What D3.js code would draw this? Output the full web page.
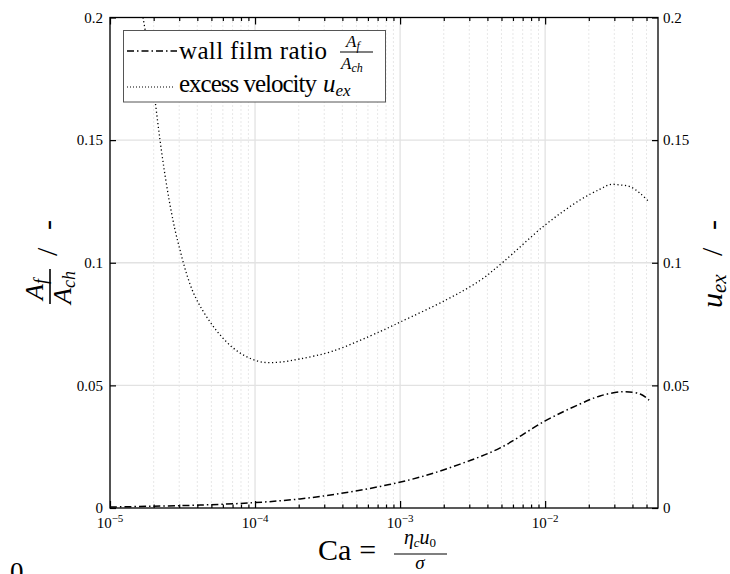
<!DOCTYPE html>
<html><head><meta charset="utf-8">
<script src="https://cdn.jsdelivr.net/npm/d3@7"></script>
<style>
body{margin:0;background:#fff}
svg{display:block}
svg text{font-family:'Liberation Serif','DejaVu Serif','Noto Serif',serif;fill:#000}
</style>
</head><body>
<svg id="chart" width="730" height="574" font-family="Liberation Serif, DejaVu Serif, serif"></svg>
<script>
// ---- data ----
const filmCa    = [1e-5, 1.887e-5, 4.175e-5, 1e-4, 2.043e-4, 3.86e-4, 7.3e-4, 1.374e-3, 2.594e-3, 4.9e-3, 1e-2, 1.74e-2, 2.39e-2, 3.45e-2, 4.52e-2, 5.21e-2];
const filmRatio = [0.0004, 0.0007, 0.0012, 0.0022, 0.0037, 0.0059, 0.0088, 0.0126, 0.0179, 0.0245, 0.0355, 0.0424, 0.0457, 0.0474, 0.0465, 0.044];
const uexCa       = [1.689e-5, 1.887e-5, 2.043e-5, 2.212e-5, 2.394e-5, 2.593e-5, 2.807e-5, 3.039e-5, 3.343e-5, 3.736e-5, 4.175e-5, 4.894e-5, 5.736e-5, 7.05e-5, 8.8e-5, 1.117e-4, 1.488e-4, 2.043e-4, 3.45e-4, 7.3e-4, 1e-3, 2.1e-3, 3.56e-3, 5.18e-3, 1e-2, 1.74e-2, 2.39e-2, 2.8e-2, 3.3e-2, 3.86e-2, 4.52e-2, 5.2e-2];
const uexVelocity = [0.2, 0.1827, 0.1664, 0.150, 0.1358, 0.1236, 0.1134, 0.1052, 0.0962, 0.0881, 0.0824, 0.0759, 0.0706, 0.0653, 0.0616, 0.0595, 0.0595, 0.0608, 0.0640, 0.0720, 0.0758, 0.0850, 0.0928, 0.1005, 0.1154, 0.1256, 0.130, 0.1319, 0.1317, 0.131, 0.1283, 0.1248];
const xDomain = [1e-5, 6e-2];
const yDomain = [0, 0.2];
const xMajorTicks = [1e-5, 1e-4, 1e-3, 1e-2];
const xMajorExps = ["5", "4", "3", "2"];
const yTicks = [0, 0.05, 0.1, 0.15, 0.2];
const yTickLabels = ["0", "0.05", "0.1", "0.15", "0.2"];

// ---- layout ----
const L = 110, R = 658, T = 17.5, B = 508;
const svg = d3.select("#chart");
const x = d3.scaleLog().domain(xDomain).range([L, R]);
const y = d3.scaleLinear().domain(yDomain).range([B, T]);

const minorTicks = [];
for (let e = -5; e <= -2; e++) for (let m = 2; m <= 9; m++) {
  const v = m * Math.pow(10, e);
  if (v < xDomain[1] - 1e-12) minorTicks.push(v);
}

// grid
const grid = svg.append("g");
grid.selectAll(".vmin").data(minorTicks).join("line")
  .attr("x1", d => x(d)).attr("x2", d => x(d)).attr("y1", T).attr("y2", B)
  .attr("stroke", "#c4c4c4").attr("stroke-width", 0.8).attr("stroke-dasharray", "1,3");
grid.selectAll(".vmaj").data(xMajorTicks).join("line")
  .attr("x1", d => x(d)).attr("x2", d => x(d)).attr("y1", T).attr("y2", B)
  .attr("stroke", "#e2e2e2").attr("stroke-width", 1.3);
grid.selectAll(".h").data(yTicks.slice(1, -1)).join("line")
  .attr("x1", L).attr("x2", R).attr("y1", d => y(d)).attr("y2", d => y(d))
  .attr("stroke", "#e2e2e2").attr("stroke-width", 1.3);

// clip
svg.append("clipPath").attr("id", "clip").append("rect")
  .attr("x", L).attr("y", T).attr("width", R - L).attr("height", B - T);

const line = d3.line().x(d => x(d[0])).y(d => y(d[1])).curve(d3.curveCatmullRom.alpha(0.5));
const plot = svg.append("g").attr("clip-path", "url(#clip)");
plot.append("path").datum(uexCa.map((c, i) => [c, uexVelocity[i]]))
  .attr("d", line).attr("fill", "none").attr("stroke", "#000")
  .attr("stroke-width", 1.3).attr("stroke-dasharray", "1.2,2.6");
plot.append("path").datum(filmCa.map((c, i) => [c, filmRatio[i]]))
  .attr("d", line).attr("fill", "none").attr("stroke", "#000")
  .attr("stroke-width", 1.5).attr("stroke-dasharray", "7,3,1.5,3");

// axes (ticks inside)
const axB = d3.axisBottom(x).tickValues(xMajorTicks).tickSize(-7).tickFormat("");
const axT = d3.axisTop(x).tickValues(xMajorTicks).tickSize(-7).tickFormat("");
const axBm = d3.axisBottom(x).tickValues(minorTicks).tickSize(-3.5).tickFormat("");
const axTm = d3.axisTop(x).tickValues(minorTicks).tickSize(-3.5).tickFormat("");
const axL = d3.axisLeft(y).tickValues(yTicks).tickSize(-6).tickFormat("");
const axR = d3.axisRight(y).tickValues(yTicks).tickSize(-6).tickFormat("");
function styleAxis(g) { g.selectAll("path").remove(); g.selectAll("text").remove(); g.selectAll("line").attr("stroke", "#000").attr("stroke-width", 1.2); }
svg.append("g").attr("transform", `translate(0,${B})`).call(axB).call(styleAxis);
svg.append("g").attr("transform", `translate(0,${B})`).call(axBm).call(styleAxis);
svg.append("g").attr("transform", `translate(0,${T})`).call(axT).call(styleAxis);
svg.append("g").attr("transform", `translate(0,${T})`).call(axTm).call(styleAxis);
svg.append("g").attr("transform", `translate(${L},0)`).call(axL).call(styleAxis);
svg.append("g").attr("transform", `translate(${R},0)`).call(axR).call(styleAxis);
svg.append("rect").attr("x", L).attr("y", T).attr("width", R - L).attr("height", B - T)
  .attr("fill", "none").attr("stroke", "#000").attr("stroke-width", 1.3);

// tick labels
svg.selectAll(".yl").data(yTicks).join("text")
  .attr("x", L - 7).attr("y", d => y(d)).attr("dy", "0.35em")
  .attr("text-anchor", "end").attr("font-size", 15).text((d, i) => yTickLabels[i]);
svg.selectAll(".yr").data(yTicks).join("text")
  .attr("x", R + 5).attr("y", d => y(d)).attr("dy", "0.35em")
  .attr("text-anchor", "start").attr("font-size", 15).text((d, i) => yTickLabels[i]);
const xl = svg.selectAll(".xl").data(xMajorTicks).join("text")
  .attr("x", d => x(d)).attr("y", 528).attr("text-anchor", "middle").attr("font-size", 15);
xl.append("tspan").text("10");
xl.append("tspan").attr("dy", -6).attr("font-size", 11).text((d, i) => "\u2212" + xMajorExps[i]);

// legend
const lg = svg.append("g");
lg.append("rect").attr("x", 123.5).attr("y", 30.5).attr("width", 262).attr("height", 71.5)
  .attr("fill", "#fff").attr("stroke", "#555").attr("stroke-width", 1);
lg.append("line").attr("x1", 127).attr("x2", 177).attr("y1", 51).attr("y2", 51)
  .attr("stroke", "#000").attr("stroke-width", 1.5).attr("stroke-dasharray", "7,3,1.5,3");
lg.append("line").attr("x1", 127).attr("x2", 173).attr("y1", 87).attr("y2", 87)
  .attr("stroke", "#000").attr("stroke-width", 1.2).attr("stroke-dasharray", "1,2");
lg.append("text").attr("x", 179).attr("y", 59).attr("font-size", 25)
  .attr("textLength", 148).text("wall film ratio");
const n1 = lg.append("text").attr("x", 346).attr("y", 47).attr("font-size", 17).attr("font-style", "italic");
n1.append("tspan").text("A"); n1.append("tspan").attr("font-size", 12).attr("dy", 3).text("f");
lg.append("line").attr("x1", 340).attr("x2", 373).attr("y1", 52).attr("y2", 52).attr("stroke", "#000").attr("stroke-width", 1.2);
const d1 = lg.append("text").attr("x", 341).attr("y", 69).attr("font-size", 17).attr("font-style", "italic");
d1.append("tspan").text("A"); d1.append("tspan").attr("font-size", 12).attr("dy", 3).text("ch");
lg.append("text").attr("x", 179).attr("y", 92).attr("font-size", 25)
  .attr("textLength", 138).text("excess velocity");
const u1 = lg.append("text").attr("x", 323).attr("y", 92).attr("font-size", 25).attr("font-style", "italic");
u1.append("tspan").text("u"); u1.append("tspan").attr("font-size", 17).attr("dy", 4).text("ex");

// x label
const xt = svg.append("text").attr("x", 318).attr("y", 560).attr("font-size", 30);
xt.append("tspan").text("Ca");
xt.append("tspan").attr("dx", 8).text("=");
const num = svg.append("text").attr("x", 420).attr("y", 544).attr("text-anchor", "middle").attr("font-size", 20).attr("font-style", "italic");
num.append("tspan").text("η"); num.append("tspan").attr("font-size", 13).attr("dy", 3).text("c");
num.append("tspan").attr("dy", -3).text("u"); num.append("tspan").attr("font-size", 13).attr("font-style", "normal").attr("dy", 3).text("0");
svg.append("line").attr("x1", 394).attr("x2", 447).attr("y1", 554).attr("y2", 554).attr("stroke", "#000").attr("stroke-width", 1.2);
svg.append("text").attr("x", 420).attr("y", 569).attr("text-anchor", "middle").attr("font-size", 19).attr("font-style", "italic").text("σ");

// left y label
const ly = svg.append("g").attr("transform", "translate(57,0) rotate(-90)");
const la = ly.append("text").attr("x", -300).attr("y", -14).attr("font-size", 26).attr("font-style", "italic");
la.append("tspan").text("A"); la.append("tspan").attr("font-size", 18).attr("dy", 4).text("f");
ly.append("line").attr("x1", -304).attr("x2", -269).attr("y1", -7).attr("y2", -7).attr("stroke", "#000").attr("stroke-width", 1.6);
const lb = ly.append("text").attr("x", -304).attr("y", 14).attr("font-size", 26).attr("font-style", "italic");
lb.append("tspan").text("A"); lb.append("tspan").attr("font-size", 18).attr("dy", 4).text("ch");
ly.append("text").attr("x", -256).attr("y", 0).attr("font-size", 30).text("/");
ly.append("text").attr("x", -230).attr("y", 0).attr("font-size", 30).text("-");

// right y label
const ry = svg.append("g").attr("transform", "translate(722,0) rotate(-90)");
const ru = ry.append("text").attr("x", -308).attr("y", 0).attr("font-size", 30).attr("font-style", "italic");
ru.append("tspan").text("u"); ru.append("tspan").attr("font-size", 21).attr("dy", 4).text("ex");
ry.append("text").attr("x", -256).attr("y", 0).attr("font-size", 30).text("/");
ry.append("text").attr("x", -230).attr("y", 0).attr("font-size", 30).text("-");

// stray glyph at bottom-left of the reference
svg.append("text").attr("x", 10).attr("y", 581).attr("font-size", 27).text("0");
</script>
</body></html>
